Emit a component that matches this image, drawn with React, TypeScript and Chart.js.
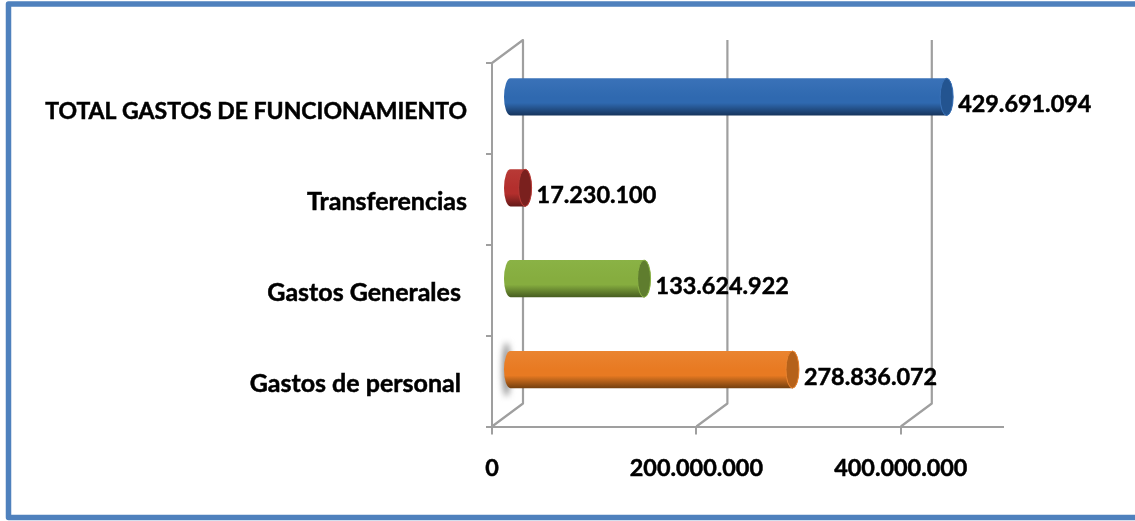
import React, { useEffect, useRef } from "react";
import { Chart, registerables } from "chart.js";

Chart.register(...registerables);

const categories = [
  "TOTAL GASTOS DE FUNCIONAMIENTO",
  "Transferencias",
  "Gastos Generales ",
  "Gastos de personal ",
];
const values = [429691094, 17230100, 133624922, 278836072];
const valueLabels = ["429.691.094", "17.230.100", "133.624.922", "278.836.072"];
const axisTicks = [0, 200000000, 400000000];
const axisTickLabels = ["0", "200.000.000", "400.000.000"];
const barColors = ["#2f69b0", "#b32f2d", "#86ad3f", "#e87a22"];
const barDark = ["#16345c", "#641a18", "#465c20", "#74400f"];
const capColors = ["#235490", "#7a201e", "#5f7d2e", "#b5611a"];
const capRims = ["#3a72b8", "#b83a36", "#8ab245", "#ea8430"];

const FONT = "Lato, Carlito, sans-serif";
const GRID = "#9f9f9f";
const DX = 31;
const DY = 23;
const CAP = 6.5;

const cylinderPlugin = {
  id: "cylinder",
  beforeDraw(chart: any) {
    const { ctx, scales, chartArea } = chart;
    const x = scales.x;
    ctx.save();
    // frame
    ctx.strokeStyle = "#4f81bd";
    ctx.lineWidth = 5.5;
    ctx.lineJoin = "round";
    ctx.strokeRect(8.5, 4, 1140, 513.5);
    // back wall and floor
    ctx.strokeStyle = GRID;
    ctx.lineWidth = 2.2;
    x.ticks.forEach((t: any) => {
      const px = x.getPixelForValue(t.value);
      ctx.beginPath();
      ctx.moveTo(px, chartArea.bottom);
      ctx.lineTo(px + DX, chartArea.bottom - DY);
      ctx.lineTo(px + DX, chartArea.top - DY);
      if (t.value === 0) ctx.lineTo(px, chartArea.top);
      ctx.stroke();
    });
    ctx.restore();
  },
  beforeDatasetDraw(chart: any, args: any) {
    const { ctx } = chart;
    const meta = chart.getDatasetMeta(args.index);
    ctx.save();
    meta.data.forEach((el: any, i: number) => {
      const h = el.height;
      const cy = el.y - DY / 2;
      const top = cy - h / 2;
      const bottom = cy + h / 2;
      const left = el.base + DX / 2 + 2;
      const right = el.x + DX / 2;
      if (i === 3) {
        ctx.save();
        ctx.filter = "blur(3px)";
        ctx.fillStyle = "#8a8a8a";
        ctx.beginPath();
        ctx.ellipse(left - 4, cy, 4, 27, 0, 0, Math.PI * 2);
        ctx.fill();
        ctx.restore();
      }
      const g = ctx.createLinearGradient(0, top, 0, bottom);
      g.addColorStop(0, capRims[i]);
      g.addColorStop(0.5, barColors[i]);
      g.addColorStop(0.66, barColors[i]);
      g.addColorStop(1, barDark[i]);
      ctx.fillStyle = g;
      ctx.beginPath();
      ctx.ellipse(left, cy, CAP, h / 2, 0, Math.PI / 2, (Math.PI * 3) / 2);
      ctx.lineTo(right, top);
      ctx.ellipse(right, cy, CAP, h / 2, 0, -Math.PI / 2, Math.PI / 2);
      ctx.closePath();
      ctx.fill();
      ctx.fillStyle = capColors[i];
      ctx.strokeStyle = capRims[i];
      ctx.lineWidth = 1;
      ctx.beginPath();
      ctx.ellipse(right, cy, CAP, h / 2, 0, 0, Math.PI * 2);
      ctx.fill();
      ctx.stroke();
      ctx.fillStyle = "#000";
      ctx.strokeStyle = "#000";
      ctx.lineWidth = 0.5;
      ctx.font = `bold 23.4px ${FONT}`;
      ctx.textAlign = "left";
      ctx.textBaseline = "middle";
      ctx.fillText(valueLabels[i], right + 11.5, cy + 7.5);
      ctx.strokeText(valueLabels[i], right + 11.5, cy + 7.5);
    });
    ctx.restore();
    return false;
  },
};

export default function App() {
  const ref = useRef<HTMLCanvasElement>(null);
  useEffect(() => {
    const chart = new Chart(ref.current!, {
      type: "bar",
      data: {
        labels: categories,
        datasets: [
          {
            data: values,
            backgroundColor: barColors,
            categoryPercentage: 0.41,
            barPercentage: 1,
          },
        ],
      },
      plugins: [cylinderPlugin],
      options: {
        animation: false,
        responsive: false,
        indexAxis: "y",
        layout: { padding: { top: 63, right: 132, left: 0, bottom: 0 } },
        plugins: { legend: { display: false }, tooltip: { enabled: false } },
        scales: {
          x: {
            min: 0,
            max: 500000000,
            afterBuildTicks: (s: any) => {
              s.ticks = axisTicks.map((value) => ({ value }));
            },
            afterFit: (s: any) => {
              s.height = 94.5;
            },
            grid: { drawOnChartArea: false, color: GRID, lineWidth: 2, tickLength: 8 },
            border: { color: GRID, width: 2 },
            ticks: {
              autoSkip: false,
              maxRotation: 0,
              padding: 20,
              color: "#000",
              textStrokeColor: "#000",
              textStrokeWidth: 0.5,
              font: { family: FONT, weight: "bold", size: 23.4 },
              callback: (_v: any, i: number) => axisTickLabels[i],
            },
          },
          y: {
            afterFit: (s: any) => {
              s.width = 492;
            },
            grid: { drawOnChartArea: false, color: GRID, lineWidth: 2, tickLength: 6, offset: true },
            border: { color: GRID, width: 2 },
            ticks: {
              padding: 19,
              color: "#000",
              textStrokeColor: "#000",
              textStrokeWidth: 0.5,
              // a small empty first line nudges each label down to its place in the picture
              callback: (_v: any, i: number) => ["", categories[i]],
              font: (c: any) => ({
                family: FONT,
                weight: "bold",
                size: c.index === 0 ? 23 : 25,
                lineHeight: 0.24,
              }),
            },
          },
        },
      },
    } as any);
    return () => chart.destroy();
  }, []);
  return (
    <canvas
      ref={ref}
      width={1135}
      height={521}
      style={{ position: "absolute", left: 0, top: 0, width: 1135, height: 521 }}
    />
  );
}
